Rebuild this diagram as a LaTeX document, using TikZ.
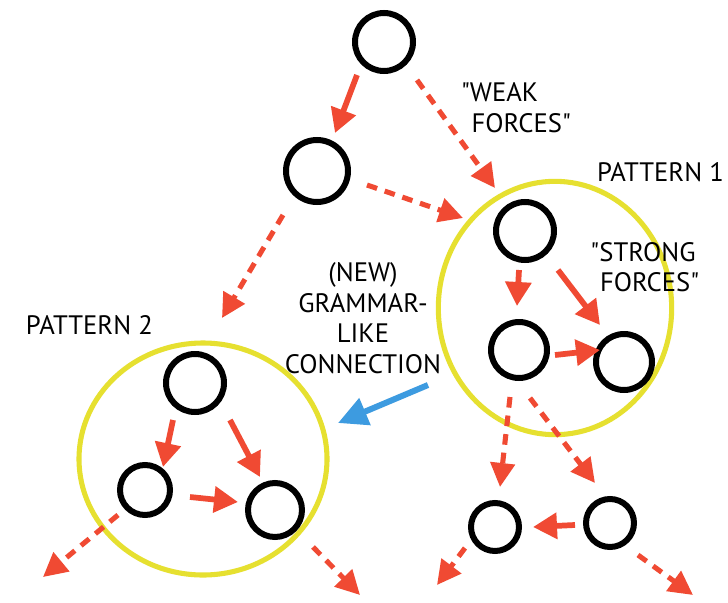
\documentclass[tikz,border=0pt]{standalone}
\usepackage{fontspec}
\setmainfont{PT Sans}
\usetikzlibrary{arrows.meta,calc,shapes.geometric}
\definecolor{ared}{HTML}{F04A33}
\definecolor{ayel}{HTML}{E6E030}
\definecolor{ablue}{HTML}{3D9BE0}
\newcommand{\qq}{\textquotedbl}
\tikzset{
  bc/.style={circle, draw=black, line width=4.5pt, inner sep=0pt, outer sep=0pt, minimum size=#1},
  ycirc/.style={ellipse, draw=ayel, line width=3.8pt, inner sep=0pt, outer sep=0pt},
  solidarrow/.style={draw=ared, line width=4.3pt, -{Triangle[length=18pt,width=19pt]}, ared},
  dasharrow/.style={draw=ared, line width=3.8pt, dash pattern=on 8pt off 6pt, -{Triangle[length=18pt,width=18pt]}, ared},
  bluearrow/.style={draw=ablue, line width=4.5pt, -{Triangle[length=22pt,width=21pt]}, ablue},
  lbl/.style={font=\fontsize{20}{23}\selectfont, inner sep=0pt, outer sep=0pt}
}
\begin{document}
\begin{tikzpicture}[x=0.75pt,y=-0.75pt]
\useasboundingbox[fill=white] (0,0) rectangle (728,603);
% pattern outlines
\node[ycirc, minimum width=175pt, minimum height=190pt] (pat1) at (555,308) {};
\node[ycirc, minimum width=186pt, minimum height=174pt] (pat2) at (203,459) {};
% circles
\node[bc=43.5pt] (A) at (384,42) {};
\node[bc=46.5pt] (B) at (317,171) {};
\node[bc=43.5pt] (P1a) at (525,231) {};
\node[bc=42pt] (P1b) at (519,350) {};
\node[bc=42pt] (P1c) at (624,362) {};
\node[bc=36pt] (Q1) at (495,527) {};
\node[bc=36pt] (Q2) at (610,523) {};
\node[bc=43.5pt] (P2a) at (195,383) {};
\node[bc=37.5pt] (P2b) at (145,490) {};
\node[bc=40.5pt] (P2c) at (275,510) {};
% free ends
\coordinate (e1) at (437,585);
\coordinate (e2) at (693,595);
\coordinate (e3) at (43,577);
\coordinate (e4) at (360,595);
% labels
\node[lbl, anchor=west, align=left] (weak) at (461,108) {\qq WEAK\\\hspace*{8pt}FORCES\qq};
\node[lbl, anchor=west] (pl1) at (597,172) {PATTERN 1};
\node[lbl, align=center] (strong) at (643,267) {\qq STRONG\\\hspace*{10pt}FORCES\qq};
\node[lbl, anchor=west] (pl2) at (26,325) {PATTERN 2};
\node[lbl, align=center] (gram) at (363,318) {(NEW)\\GRAMMAR-\\LIKE\\CONNECTION};
% arrows
\draw[solidarrow] ($(A)+(-27,33)$) -- ($(B)+(18,-38)$);
\draw[dasharrow] ($(A)+(33,38)$) -- ($(P1a)+(-30,-43)$);
\draw[dasharrow] ($(B)+(50,14)$) -- ($(P1a)+(-62,-13)$);
\draw[dasharrow] ($(B)+(-34,44)$) -- ($(pat2)+(19,-141)$);
\draw[solidarrow] ($(P1a)+(-6,39)$) -- ($(P1b)+(-2,-44)$);
\draw[solidarrow] ($(P1a)+(33,39)$) -- ($(P1c)+(-24,-37)$);
\draw[solidarrow] ($(P1b)+(36,5)$) -- ($(P1c)+(-24,-12)$);
\draw[dasharrow] ($(P1b)+(-9,47)$) -- ($(Q1)+(5,-40)$);
\draw[dasharrow] ($(P1b)+(11,48)$) -- ($(Q2)+(-15,-40)$);
\draw[solidarrow] ($(Q2)+(-35,2)$) -- ($(Q1)+(38,0)$);
\draw[dasharrow] ($(Q1)+(-30,21)$) -- (e1);
\draw[dasharrow] ($(Q2)+(28,32)$) -- (e2);
\draw[solidarrow] ($(P2a)+(-22,37)$) -- ($(P2b)+(18,-23)$);
\draw[solidarrow] ($(P2a)+(35,37)$) -- ($(P2c)+(-15,-33)$);
\draw[solidarrow] ($(P2b)+(45,7)$) -- ($(P2c)+(-37,-8)$);
\draw[dasharrow] ($(P2b)+(-27,25)$) -- (e3);
\draw[dasharrow] ($(P2c)+(38,37)$) -- (e4);
\draw[bluearrow] ($(gram)+(65,67)$) -- ($(pat2)+(135,-36)$);
\end{tikzpicture}
\end{document}
